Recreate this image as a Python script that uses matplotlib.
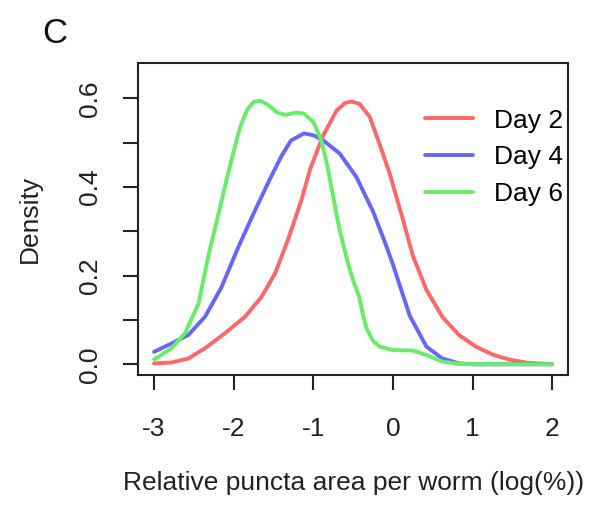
import matplotlib
matplotlib.use("Agg")
import matplotlib.pyplot as plt

plt.rcParams["font.family"] = ["Liberation Sans", "DejaVu Sans"]

# ---------------------------------------------------------
# Data
# ---------------------------------------------------------
labels = ["Day 2", "Day 4", "Day 6"]
colors = ["#ff6666", "#6666ff", "#66ee66"]

day2_x = [-3.0, -2.78, -2.57, -2.36, -2.11, -1.86, -1.65, -1.48, -1.32, -1.15,
          -1.04, -0.88, -0.71, -0.6, -0.52, -0.42, -0.29, -0.17, -0.04, 0.12,
          0.25, 0.42, 0.62, 0.83, 1.04, 1.25, 1.45, 1.7, 2.0]
day2_y = [0.002, 0.004, 0.013, 0.036, 0.07, 0.107, 0.152, 0.205, 0.28, 0.37,
          0.44, 0.515, 0.572, 0.59, 0.593, 0.588, 0.558, 0.498, 0.43, 0.33,
          0.245, 0.168, 0.107, 0.066, 0.04, 0.022, 0.011, 0.003, 0.0]

day4_x = [-3.0, -2.78, -2.57, -2.36, -2.15, -1.94, -1.73, -1.55, -1.4, -1.28,
          -1.12, -1.0, -0.88, -0.67, -0.46, -0.25, -0.1, 0.0, 0.21, 0.42,
          0.62, 0.83, 1.0, 1.5, 2.0]
day4_y = [0.028, 0.047, 0.066, 0.107, 0.175, 0.265, 0.348, 0.416, 0.47, 0.505,
          0.521, 0.517, 0.506, 0.476, 0.423, 0.345, 0.275, 0.225, 0.11, 0.04,
          0.013, 0.002, 0.0, 0.0, 0.0]

day6_x = [-3.0, -2.78, -2.61, -2.44, -2.32, -2.19, -2.09, -2.0, -1.92, -1.83,
          -1.75, -1.67, -1.58, -1.45, -1.35, -1.22, -1.12, -1.0, -0.9, -0.83,
          -0.75, -0.67, -0.56, -0.5, -0.42, -0.375, -0.33, -0.25, -0.17, 0.0,
          0.25, 0.42, 0.62, 0.83, 1.0, 1.5, 2.0]
day6_y = [0.011, 0.036, 0.07, 0.138, 0.243, 0.34, 0.416, 0.48, 0.535, 0.575,
          0.592, 0.595, 0.587, 0.568, 0.563, 0.568, 0.566, 0.547, 0.506, 0.453,
          0.378, 0.303, 0.225, 0.19, 0.15, 0.11, 0.08, 0.053, 0.04, 0.032,
          0.031, 0.021, 0.006, 0.001, 0.0, 0.0, 0.0]

xticks = [-3, -2, -1, 0, 1, 2]
yticks = [0.0, 0.1, 0.2, 0.3, 0.4, 0.5, 0.6]
ytick_labels = ["0.0", "", "0.2", "", "0.4", "", "0.6"]


def main():
    fig = plt.figure(figsize=(5.9, 5.08), dpi=100)
    ax = fig.add_axes([0.234, 0.262, 0.729, 0.614])

    series = [(day2_x, day2_y), (day4_x, day4_y), (day6_x, day6_y)]
    for (xs, ys), lab, col in zip(series, labels, colors):
        ax.plot(xs, ys, color=col, lw=2.8, label=lab,
                solid_capstyle="round", solid_joinstyle="round")

    ax.set_xlim(-3.2, 2.2)
    ax.set_ylim(-0.024, 0.68)

    ax.set_xticks(xticks)
    ax.set_xticklabels([str(t) for t in xticks])
    ax.set_yticks(yticks)
    ax.set_yticklabels(ytick_labels, rotation=90, va="center")

    for sp in ax.spines.values():
        sp.set_linewidth(1.5)
        sp.set_color("#222222")
    ax.tick_params(axis="both", direction="out", length=11, width=1.5,
                   color="#222222", labelsize=19, labelcolor="#222222")
    ax.tick_params(axis="x", pad=19)
    ax.tick_params(axis="y", pad=15)

    ax.set_xlabel("Relative puncta area per worm (log(%))", fontsize=19,
                  color="#222222", labelpad=22)
    ax.set_ylabel("Density", fontsize=19, color="#222222", labelpad=26)

    ax.legend(loc="upper right", bbox_to_anchor=(1.043, 0.93), frameon=False,
              fontsize=19, handlelength=1.8, handletextpad=0.8,
              labelspacing=0.48)

    fig.text(0.072, 0.935, "C", fontsize=25, color="#111111",
             ha="left", va="center")

    fig.savefig("out.png", dpi=100)


if __name__ == "__main__":
    main()
